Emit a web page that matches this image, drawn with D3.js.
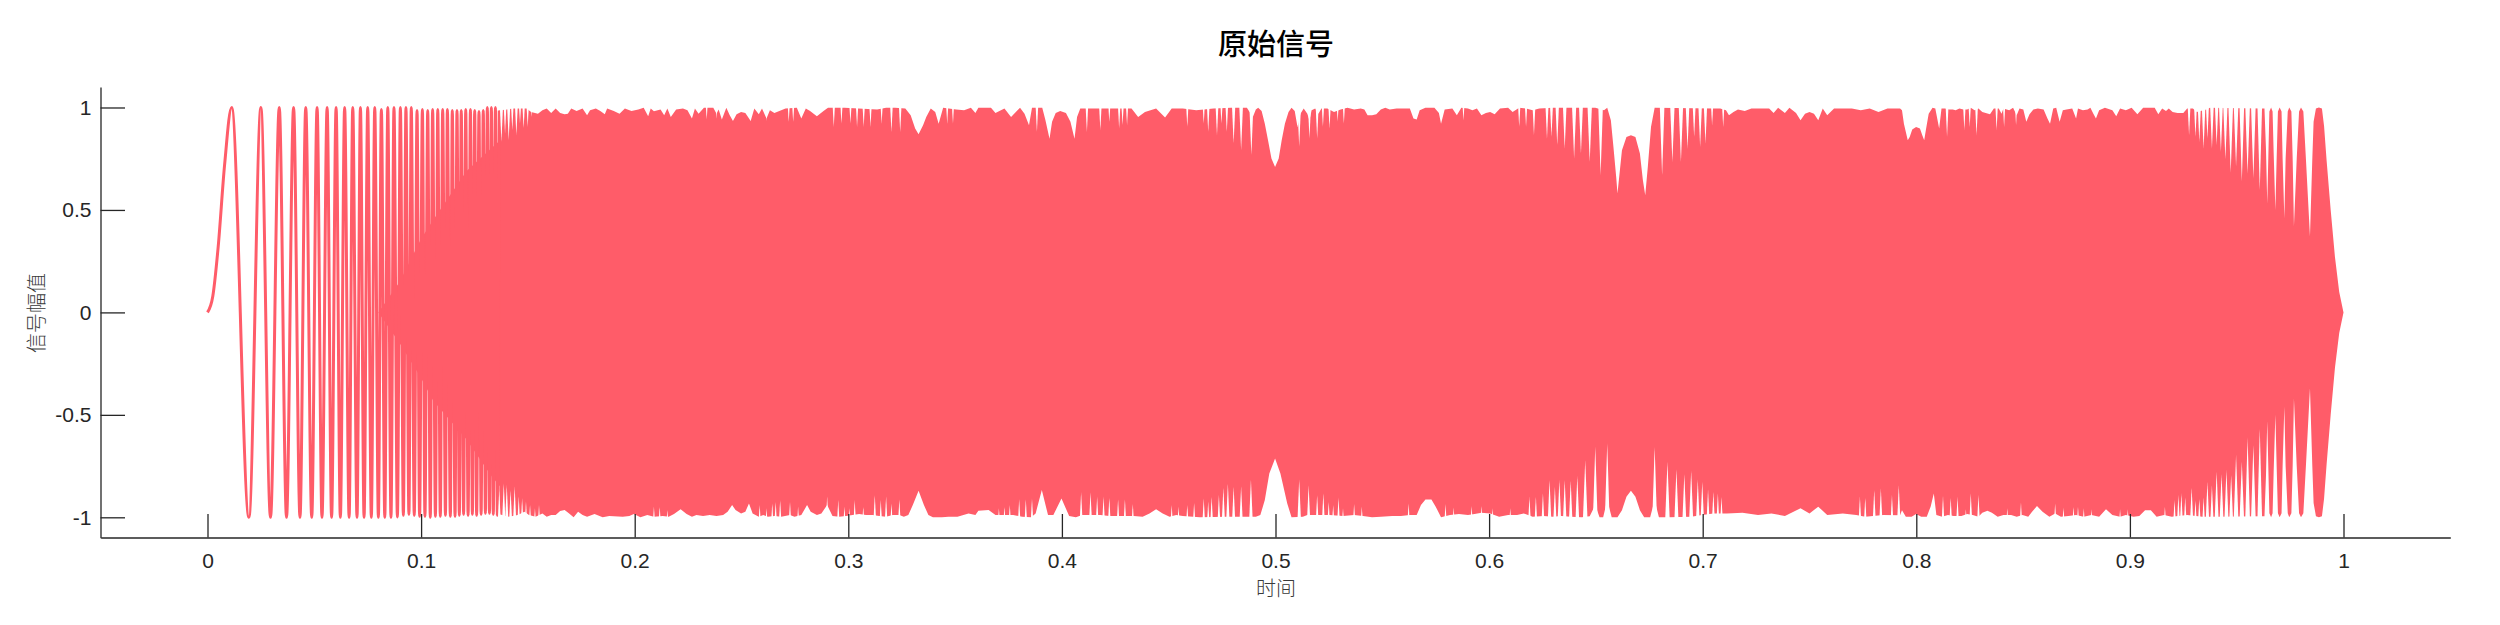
<!DOCTYPE html>
<html><head><meta charset="utf-8">
<script src="https://cdn.jsdelivr.net/npm/d3@7"></script>
<style>
html,body{margin:0;padding:0;background:#fff}
svg{display:block}
.tick text{font-family:"Liberation Sans",Arial,sans-serif;font-size:21px;fill:#262626}
.tick line,.domain{stroke:#262626;stroke-width:1.3px}
.cjk{font-family:"Noto Sans CJK SC",sans-serif;text-anchor:middle}
</style></head><body>
<svg id="c" width="2500" height="625"></svg>
<script>
const titleText = "原始信号", xLabelText = "时间", yLabelText = "信号幅值";
const xTickValues = [0,0.1,0.2,0.3,0.4,0.5,0.6,0.7,0.8,0.9,1];
const xTickLabels = ["0","0.1","0.2","0.3","0.4","0.5","0.6","0.7","0.8","0.9","1"];
const yTickValues = [-1,-0.5,0,0.5,1];
const yTickLabels = ["-1","-0.5","0","0.5","1"];

// resolved oscillation at the start: turning points [time, amplitude]
const startTurns = [[0,0],[.0025,.08],[.005,.32],[.008,.72],[.0113,1],[.0194,-1],[.025,1],[.0295,-1],[.0336,1],[.037,-1],[.0403,1],[.0433,-1],[.046,1],[.0488,-1],[.0513,1],[.0536,-1],[.056,1],[.0581,-1],[.0602,1],[.0622,-1],[.0642,1],[.0663,-1],[.068,1],[.07,-1],[.0716,1],[.0733,-1],[.075,1],[.0767,-1],[.0783,1],[.08,-1],[.0814,.99],[.083,-1],[.0844,1],[.0859,-1],[.0873,1],[.0889,-.998],[.0903,1],[.0917,-.99],[.0929,1],[.0943,-.985],[.0954,1],[.0968,-.99],[.0981,.985],[.0993,-.995],[.1006,.99],[.1018,-.995],[.1031,.985],[.1043,-1],[.1054,.99],[.1067,-.995],[.1078,.99],[.109,-.995],[.1101,.99],[.1114,-.99],[.1123,.99],[.1137,-.995],[.1146,.985],[.1159,-.995],[.1168,.985],[.1179,-.99],[.1188,.985],[.1199,-.985],[.1209,.99],[.122,-.99],[.1231,.99],[.124,-.985],[.1251,.985],[.126,-.99],[.1271,.98],[.1281,-.985],[.1291,.985],[.1301,-.98],[.131,1],[.132,-.98],[.1329,1],[.1338,-.985],[.1348,1],[.1357,-.99],[.1366,.985]];

// where the early swings merge into a solid core: [time, upper limit], [time, lower limit]
const coreUpper = [[.08,0],[.09,.15],[.1,.36],[.1056,.45],[.1213,.69],[.137,.84]];
const coreLower = [[.08,0],[.09,-.15],[.1,-.32],[.1056,-.43],[.1213,-.62],[.133,-.8],[.137,-.85]];

// outer edge of the dense band, upper side
const topEdge = [[.1366,.985],[.1432,.995],[.1494,.995],[.1515,.978],[.1547,.97],[.1568,.986],[.1588,.995],[.1609,.973],[.163,.995],[.1651,.973],[.1672,.967],[.1687,.97],[.1703,.995],[.1728,.983],[.1756,.995],[.1777,.962],[.1791,.986],[.1818,.995],[.1839,.983],[.186,.967],[.1871,.995],[.1902,.983],[.1929,.97],[.1954,.995],[.1985,.983],[.2017,.99],[.2042,.999],[.2063,.957],[.2075,.995],[.209,.982],[.2121,.99],[.2138,.962],[.2153,.995],[.2169,.954],[.2194,.99],[.2226,.995],[.2247,.986],[.2268,.946],[.2282,.995],[.2299,.97],[.2324,.999],[.2368,.999],[.2383,.97],[.2393,.99],[.2408,.941],[.2429,.999],[.2445,.962],[.246,.934],[.2477,.967],[.2498,.978],[.2518,.973],[.2543,.934],[.256,.995],[.2581,.967],[.2596,.995],[.2617,.946],[.2633,.986],[.2654,.973],[.2686,.986],[.2706,.995],[.2759,.999],[.278,.946],[.2801,.995],[.2821,.983],[.2853,.957],[.2884,.983],[.2905,.999],[.2982,.999],[.3135,.99],[.3177,.999],[.3219,.999],[.3267,.995],[.3292,.962],[.3313,.897],[.3329,.869],[.335,.913],[.3365,.954],[.3386,.995],[.3407,.978],[.3423,.921],[.3444,.999],[.3505,.99],[.3542,.986],[.3574,.999],[.3595,.973],[.3609,.999],[.3668,.999],[.3689,.973],[.3731,.995],[.3762,.954],[.3804,.999],[.3825,.97],[.3846,.913],[.386,.999],[.3908,.999],[.3923,.938],[.3942,.848],[.3954,.93],[.3971,.973],[.3992,.983],[.4019,.973],[.404,.93],[.4059,.848],[.4071,.954],[.4086,.995],[.4138,.995],[.4201,.995],[.4263,.995],[.4326,.995],[.4357,.954],[.4389,.978],[.4441,.995],[.4483,.951],[.4514,.995],[.4566,.995],[.4629,.986],
[.471,.995],[.4793,.999],[.4866,.999],[.4894,.954],[.4908,.99],[.4919,.999],[.4935,.983],[.495,.921],[.4965,.84],[.4981,.751],[.4998,.71],[.5015,.751],[.5029,.84],[.5044,.921],[.5061,.978],[.5075,.999],[.509,.983],[.5103,.905],[.5117,.97],[.5132,.995],[.5149,.97],[.5159,.938],[.5169,.986],[.5186,.995],[.5201,.97],[.5215,.995],[.5243,.995],[.5274,.978],[.5305,.99],[.5337,.999],[.5368,.99],[.5399,.995],[.5416,.99],[.5431,.962],[.5452,.962],[.5472,.967],[.5493,.99],[.5514,.999],[.5535,.99],[.5567,.995],[.5629,.995],[.5646,.946],[.5661,.941],[.5675,.986],[.5702,.999],[.5744,.999],[.5765,.973],[.5775,.921],[.5792,.99],[.5828,.995],[.5849,.962],[.587,.999],[.5901,.995],[.5922,.986],[.5943,.995],[.5964,.962],[.5985,.973],[.6005,.978],[.6026,.967],[.6051,.995],[.6089,.999],[.611,.978],[.6141,.999],[.6173,.995],[.6204,.986],[.6235,.995],[.6298,.999],[.6497,.999],[.6538,.986],[.6553,.999],[.657,.938],[.6582,.808],[.6595,.661],[.6601,.58],[.6622,.791],[.6643,.856],[.6664,.864],[.6685,.856],[.6706,.775],[.672,.645],[.6731,.572],[.6743,.71],[.6758,.905],[.6775,.999],[.705,.995],[.7082,.995],[.7109,.986],[.7123,.962],[.7144,.978],[.7165,.99],[.7197,.983],[.7228,.995],[.7311,.995],[.7332,.973],[.7353,.999],[.7385,.973],[.7406,.999],[.7437,.973],[.7458,.938],[.7479,.97],[.75,.978],[.7521,.97],[.7541,.938],[.7562,.995],[.7583,.962],[.7615,.995],[.7698,.995],[.774,.986],[.7782,.995],[.7823,.978],[.7865,.995],[.7924,.995],
[.7933,.986],[.7942,.921],[.7951,.881],[.796,.84],[.7969,.856],[.7981,.892],[.7999,.905],[.8017,.897],[.8028,.864],[.8037,.84],[.8046,.897],[.8058,.97],[.8076,.999],[.8089,.995],[.8098,.946],[.8107,.897],[.8118,.995],[.8135,.995],[.8153,.99],[.8171,.99],[.8184,.986],[.8202,.995],[.822,.99],[.8238,.99],[.8255,.999],[.8273,.986],[.8291,.995],[.8309,.978],[.8345,.967],[.8363,.995],[.8386,.995],[.8399,.97],[.8408,.995],[.8435,.986],[.8453,.999],[.847,.962],[.8483,.995],[.8501,.99],[.8515,.93],[.853,.967],[.8548,.99],[.8569,.995],[.8596,.99],[.8614,.946],[.8626,.921],[.8641,.995],[.8655,.999],[.8671,.93],[.8686,.986],[.8703,.99],[.873,.995],[.8748,.946],[.8757,.995],[.878,.986],[.8802,.99],[.8815,.999],[.8829,.97],[.8841,.946],[.8856,.986],[.8883,.999],[.8918,.986],[.8936,.957],[.8954,.995],[.8981,.986],[.9008,.999],[.9035,.967],[.9062,.999],[.9116,.999],[.9133,.967],[.9151,.995],[.9169,.983],[.9182,.995],[.92,.978],[.9223,.973],[.925,.973],[.9268,.995],[.9295,.995],[.9313,.978],[.9331,.983],[.9357,.99],[.9375,.999],[.962,.995]];

// outer edge of the dense band, lower side
const bottomEdge = [[.1366,-.985],[.1411,-.997],[.1453,-.989],[.1484,-.973],[.1505,-.989],[.1536,-.997],[.1568,-.981],[.1588,-.997],[.1609,-.989],[.163,-.989],[.1651,-.969],[.1672,-.964],[.1693,-.981],[.1714,-1],[.1735,-.973],[.1756,-.989],[.1777,-.997],[.1812,-.984],[.185,-1],[.1881,-.994],[.1944,-.997],[.1975,-.994],[.1996,-.984],[.2027,-1],[.2059,-.989],[.209,-.997],[.2132,-.994],[.2159,-.997],[.2184,-.984],[.2215,-.961],[.2243,-.984],[.2268,-.997],[.2289,-.989],[.232,-.994],[.2351,-.989],[.2383,-.994],[.2414,-.989],[.2435,-.973],[.2456,-.94],[.2472,-.964],[.2498,-.981],[.2518,-.973],[.2535,-.932],[.2552,-.981],[.2581,-.997],[.2602,-.989],[.2623,-.997],[.2654,-.994],[.2686,-.997],[.2727,-.989],[.2748,-.997],[.278,-.989],[.2807,-.94],[.2824,-.973],[.2853,-.989],[.2874,-.981],[.2901,-.94],[.2926,-.994],[.2957,-.997],[.2989,-.994],[.302,-.989],[.3051,-.984],[.3083,-.989],[.3114,-.989],[.3145,-.994],[.3177,-.997],[.3208,-.989],[.3239,-.989],[.326,-.997],[.3281,-.989],[.3302,-.94],[.3329,-.87],[.3354,-.94],[.3375,-.989],[.3396,-1],[.3438,-1],[.3469,-.997],[.3511,-.997],[.3563,-.981],[.3595,-.989],[.3609,-.968],[.3657,-.964],[.3689,-.989],[.372,-.989],[.3772,-.989],[.3814,-.997],[.3856,-1],[.3877,-.981],[.3906,-.867],[.3935,-.989],[.396,-.989],[.3998,-.908],[.4034,-.994],[.4065,-1],[.4096,-.989],[.418,-.989],[.4222,-.994],[.4337,-.994],[.4378,-.997],[.441,-.981],[.4441,-.961],[.4472,-.981],[.4504,-.997],[.4535,-.989],[.4566,-.994],[.4646,-1],
[.4772,-.997],[.4908,-.997],[.4929,-.989],[.495,-.916],[.4971,-.786],[.4998,-.713],[.5023,-.786],[.5055,-.932],[.5075,-1],[.5128,-.997],[.5149,-.989],[.5253,-.989],[.5316,-.994],[.5368,-.989],[.541,-.994],[.5452,-1],[.5493,-.997],[.5546,-.994],[.5587,-.994],[.5629,-.989],[.5661,-.989],[.5681,-.94],[.5702,-.913],[.573,-.913],[.575,-.948],[.5775,-1],[.5817,-.989],[.5859,-.984],[.5901,-.989],[.5932,-.984],[.5964,-.978],[.6005,-.981],[.6047,-.997],[.6089,-.989],[.6131,-.989],[.6162,-.981],[.6204,-.997],[.6256,-.994],[.6298,-.997],[.634,-.994],[.6382,-.997],[.6434,-1],[.6471,-.995],[.6497,-.94],[.6517,-1],[.6534,-1],[.6553,-.916],[.6574,-1],[.6601,-1],[.6622,-.965],[.6643,-.9],[.6664,-.87],[.6685,-.9],[.6706,-.965],[.6726,-1],[.6754,-1],[.6775,-.916],[.6795,-1],[.6841,-1],[.6946,-.997],[.6998,-.989],[.705,-.981],[.7113,-.981],[.7186,-.978],[.7259,-.989],[.7322,-.981],[.7385,-.994],[.7458,-.956],[.75,-.981],[.7541,-.948],[.7583,-.989],[.7656,-.981],[.7719,-.989],[.7761,-.997],[.7845,-.989],[.7924,-.99],
[.7933,-.965],[.7951,-.997],[.7978,-.997],[.7999,-.984],[.8023,-.997],[.8049,-.997],[.8067,-.948],[.8082,-.884],[.8094,-.989],[.8121,-.997],[.8148,-.989],[.8175,-.994],[.8211,-.994],[.8238,-.984],[.8264,-.989],[.8291,-.997],[.8309,-.978],[.8333,-.968],[.8354,-.978],[.8381,-.997],[.8408,-.989],[.8444,-.989],[.847,-.997],[.8497,-.989],[.8524,-.997],[.8542,-.973],[.8565,-.945],[.8591,-.973],[.8623,-.997],[.865,-.981],[.8677,-.997],[.8712,-.994],[.8748,-.989],[.8784,-.997],[.882,-.989],[.8856,-.997],[.8888,-.961],[.8918,-.989],[.8954,-.997],[.8981,-.989],[.9017,-.997],[.9044,-.994],[.9071,-.965],[.9098,-.965],[.9125,-.997],[.916,-.989],[.9196,-.997],[.9268,-.989],[.9339,-.997],[.9411,-.997],[.962,-.995]];

// the last wide lobes: half-height, the same above and below zero
const tailLobes = [[.963,.995],[.9637,.8],[.9643,.53],[.9649,.8],[.9653,.98],[.9661,1],[.9668,.98],[.9673,.78],[.9681,.5],[.9687,.75],[.9693,.98],[.9701,1],[.971,.98],[.9715,.75],[.9723,.46],[.9729,.75],[.9739,.98],[.9746,1],[.9756,.98],[.9762,.75],[.9768,.42],[.9781,.75],[.9792,.98],[.9801,1],[.9812,.98],[.9824,.75],[.9843,.37],[.9854,.75],[.986,.93],[.9871,.995],[.9885,1],[.9899,.995],[.9909,.91],[.9921,.74],[.994,.5],[.996,.27],[.998,.1],[1,0]];

// thin slits cut into the band: [time, how far they reach]
const topSlits = [[.1376,.832],[.1393,.873],[.141,.84],[.1427,.889],[.1446,.865],[.1463,.922],[.148,.897],[.1499,.905],[.1518,.954],[.2337,.941],[.2383,.946],[.2617,.934],[.2721,.93],[.2742,.93],[.2932,.905],[.2968,.921],[.301,.921],[.3041,.905],[.3072,.905],[.3104,.905],[.3156,.921],[.3202,.881],[.3243,.881],[.3463,.921],[.349,.921],[.3883,.881],[.4117,.881],[.418,.889],[.4222,.93],[.4268,.897],[.4284,.913],[.4305,.913],[.4587,.905],[.4664,.921],[.4685,.881],[.4726,.864],[.4747,.921],[.4772,.881],[.4804,.824],[.4839,.791],[.4887,.767],[.5111,.808],[.5159,.848],[.5195,.848],[.5222,.905],[.5253,.897],[.5291,.93],[.532,.921],[.588,.938],[.6141,.905],[.6173,.905],[.621,.864],[.6271,.848],[.6292,.856],[.6319,.816],[.6354,.799],[.6398,.751],[.643,.775],[.6471,.734],[.6522,.669],[.681,.669],[.6858,.734],[.6898,.734],[.6929,.799],[.696,.856],[.6988,.808],[.7013,.824],[.7044,.913],[.7096,.905],[.8144,.856],[.8225,.889],[.825,.905],[.8282,.864],[.8376,.889],[.8411,.905],[.8467,.913],[.9277,.864],[.9307,.856],[.9325,.832],[.9345,.799],[.9363,.848],[.9384,.799],[.9406,.816],[.9426,.783],[.9447,.746],[.9472,.681],[.9497,.713],[.9524,.637],[.9551,.677],[.9578,.653],[.9608,.596]];
const bottomSlits = [[.1366,-.867],[.1387,-.834],[.1401,-.842],[.1419,-.867],[.1438,-.85],[.1457,-.899],[.1473,-.907],[.1491,-.923],[.151,-.94],[.1533,-.956],[.1552,-.94],[.209,-.948],[.2117,-.948],[.2153,-.964],[.2585,-.94],[.2617,-.956],[.2644,-.932],[.266,-.924],[.2681,-.916],[.2727,-.924],[.2765,-.948],[.2901,-.899],[.2953,-.916],[.2982,-.948],[.3005,-.956],[.303,-.916],[.307,-.948],[.3124,-.891],[.3152,-.916],[.3177,-.899],[.3202,-.932],[.3239,-.912],[.3705,-.956],[.3731,-.948],[.3756,-.94],[.38,-.912],[.3831,-.912],[.386,-.908],[.409,-.878],[.4134,-.878],[.4165,-.899],[.4195,-.899],[.4222,-.903],[.4263,-.912],[.4295,-.912],[.4332,-.932],[.4514,-.94],[.4546,-.948],[.4587,-.94],[.4619,-.929],[.4664,-.908],[.4685,-.924],[.4701,-.9],[.4735,-.891],[.4756,-.854],[.4777,-.835],[.4804,-.851],[.4839,-.848],[.4885,-.815],[.5111,-.815],[.5155,-.843],[.5195,-.891],[.5224,-.883],[.5249,-.924],[.527,-.94],[.5295,-.903],[.5316,-.956],[.5368,-.935],[.5404,-.948],[.5623,-.932],[.5796,-.935],[.5834,-.952],[.5918,-.945],[.5964,-.945],[.6016,-.956],[.6099,-.956],[.6189,-.9],[.6219,-.9],[.6252,-.883],[.6283,-.818],[.6308,-.851],[.6329,-.818],[.6354,-.818],[.6382,-.822],[.6413,-.799],[.645,-.721],[.6497,-.656],[.6553,-.639],[.6775,-.656],[.6835,-.729],[.6877,-.766],[.6914,-.789],[.6946,-.773],[.6977,-.815],[.6998,-.826],[.7025,-.864],[.705,-.875],[.7071,-.883],[.7088,-.9],[.7736,-.9],[.7761,-.903],[.7803,-.867],[.7834,-.859],[.7886,-.891],[.7918,-.843],[.8125,-.896],[.8161,-.903],[.8193,-.9],[.8232,-.961],[.8255,-.883],[.8291,-.891],[.8426,-.956],[.849,-.929],[.865,-.932],[.8689,-.952],[.8736,-.948],[.8757,-.948],[.8784,-.956],[.882,-.961],[.8954,-.961],[.899,-.961],[.9164,-.948],[.9209,-.916],[.9227,-.891],[.9241,-.883],[.9259,-.903],[.9289,-.854],[.9307,-.916],[.9325,-.908],[.9345,-.903],[.9363,-.826],[.9384,-.843],[.9406,-.778],[.9429,-.789],[.9452,-.769],[.9474,-.794],[.9497,-.696],[.9524,-.729],[.9551,-.61],[.9578,-.648],[.9608,-.566]];

const signalColor = "#ff5c69";
const svg = d3.select("#c");
const x = d3.scaleLinear().domain([-0.05,1.05]).range([100.7,2450.3]);
const y = d3.scaleLinear().domain([-1.1,1.1]).range([537.8,87]);
const outline = d3.line().x(d => x(d[0])).y(d => y(d[1]));

const upper = topEdge.concat(tailLobes);
const lower = bottomEdge.concat(tailLobes.map(d => [d[0], -d[1]]));
svg.append("path").attr("d", outline(upper.concat(lower.slice().reverse())) + "Z").attr("fill", signalColor);
svg.append("path").attr("d", outline(coreUpper.concat(coreLower.slice().reverse())) + "Z").attr("fill", signalColor);

const startLine = d3.line().x(d => x(d[0])).y(d => y(d[1])).curve(d3.curveMonotoneX);
svg.append("path").attr("d", startLine(startTurns)).attr("fill","none")
   .attr("stroke", signalColor).attr("stroke-width",3).attr("stroke-linejoin","round");

// deeper slits are also wider at their mouth
const slitHalfWidth = d => Math.min(2.4, 0.7 + 6 * (1 - Math.abs(d[1])));
const wedge = (d, edge) => {
  const p = d3.path();
  p.moveTo(x(d[0]) - slitHalfWidth(d), y(edge));
  p.lineTo(x(d[0]) + slitHalfWidth(d), y(edge));
  p.lineTo(x(d[0]), y(d[1]));
  p.closePath();
  return p.toString();
};
svg.append("g").selectAll("path").data(topSlits).join("path").attr("d", d => wedge(d, 1.02)).attr("fill","#fff");
svg.append("g").selectAll("path").data(bottomSlits).join("path").attr("d", d => wedge(d, -1.02)).attr("fill","#fff");

const xAxis = d3.axisBottom(x).tickValues(xTickValues).tickFormat((d,i)=>xTickLabels[i]).tickSizeInner(-23.5).tickSizeOuter(0);
const yAxis = d3.axisLeft(y).tickValues(yTickValues).tickFormat(d=>yTickLabels[yTickValues.indexOf(d)]).tickSizeInner(-24.5).tickSizeOuter(0);
const gx = svg.append("g").attr("transform","translate(0,537.5)").call(xAxis);
const gy = svg.append("g").attr("transform","translate(100.5,0)").call(yAxis);
gx.selectAll(".tick text").attr("y",30).attr("dy",0);
gy.selectAll(".tick text").attr("x",-9);

svg.append("text").attr("class","cjk").attr("x",1276).attr("y",55).attr("font-size",29).attr("font-weight",500).attr("fill","#000").text(titleText);
svg.append("text").attr("class","cjk").attr("x",1276).attr("y",596).attr("font-size",20).attr("font-weight",300).attr("fill","#3a3a3a").text(xLabelText);
svg.append("text").attr("class","cjk").attr("transform","translate(44,313) rotate(-90)").attr("font-size",20).attr("font-weight",300).attr("fill","#3a3a3a").text(yLabelText);
</script></body></html>
